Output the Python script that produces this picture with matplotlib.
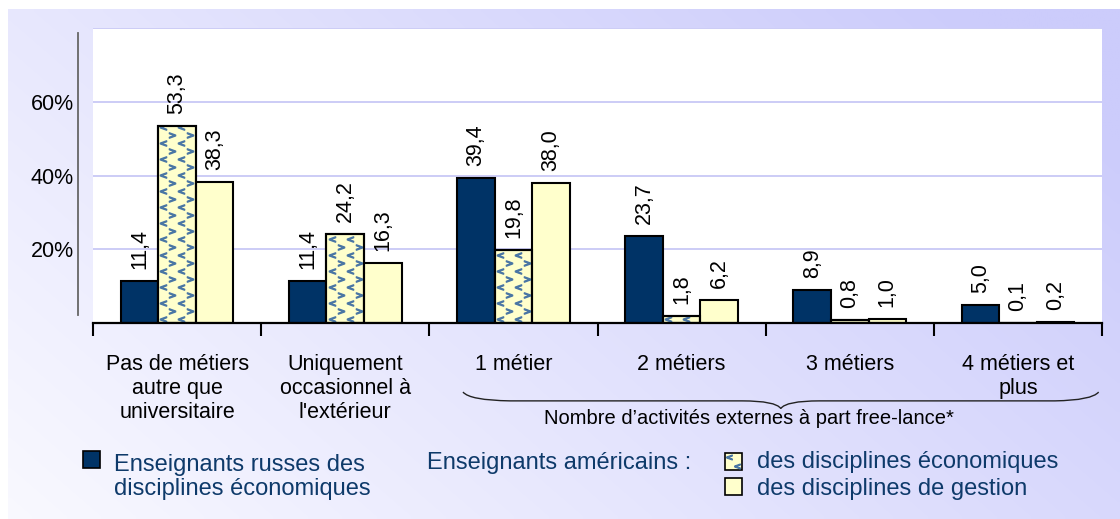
import matplotlib
matplotlib.use("Agg")
import matplotlib.pyplot as plt
import numpy as np
from matplotlib.patches import Rectangle, PathPatch
from matplotlib.path import Path
from matplotlib.transforms import blended_transform_factory

plt.rcParams['font.family'] = ['Liberation Sans', 'DejaVu Sans']

# data
categories = ["Pas de métiers\nautre que\nuniversitaire",
              "Uniquement\noccasionnel à\nl'extérieur",
              "1 métier", "2 métiers", "3 métiers", "4 métiers et\nplus"]
russes = [11.4, 11.4, 39.4, 23.7, 8.9, 5.0]
am_eco = [53.3, 24.2, 19.8, 1.8, 0.8, 0.1]
am_gestion = [38.3, 16.3, 38.0, 6.2, 1.0, 0.2]
yticks = [20, 40, 60]

NAVY = '#003366'
YELLOW = '#ffffcc'
PATTERN = '#4a76a4'
GRID = '#c8c8f6'
TXT_NAVY = '#0e3a6a'
FS_VAL = 15.5
FS_CAT = 15.5
FS_LEG = 17
FS_NOTE = 14.5

W, H = 1120, 519
fig = plt.figure(figsize=(W / 100, H / 100), dpi=100)

# background with gradient (pixel coordinates, y down)
bg = fig.add_axes([0, 0, 1, 1], zorder=0)
bg.set_xlim(0, W)
bg.set_ylim(H, 0)
bg.axis('off')
xn = np.linspace(0, 1, 200)
yn = np.linspace(0, 1, 100)
X, Y = np.meshgrid(xn, yn)
t = np.clip(0.72 * X + 0.38 * (1 - Y), 0, 1)
c0 = np.array([0.975, 0.975, 1.0])
c1 = np.array([0.80, 0.80, 0.985])
img = c0[None, None, :] * (1 - t[..., None]) + c1[None, None, :] * t[..., None]
bg.imshow(img, extent=[8, W, H, 9], aspect='auto', interpolation='bilinear')

# main axes
ax = fig.add_axes([93 / W, (H - 323) / H, (1102 - 93) / W, (323 - 28) / H], zorder=1)
ax.set_facecolor('white')
ax.set_xlim(-0.5, len(categories) - 0.5)
ax.set_ylim(0, 80)

for g in [20, 40, 60, 80]:
    ax.axhline(g, color=GRID, lw=1.3, zorder=0)

x = np.arange(len(categories))
bw = 0.223
bars_r = ax.bar(x - bw, russes, bw, color=NAVY, edgecolor='black', lw=1.5, zorder=3)
bars_e = ax.bar(x, am_eco, bw, color=YELLOW, edgecolor='black', lw=1.5, zorder=3)
bars_g = ax.bar(x + bw, am_gestion, bw, color=YELLOW, edgecolor='black', lw=1.5, zorder=3)

# chevron texture inside the economics bars
px_x = 1.0 / 168.0   # data units per pixel (x)
px_y = 80.0 / 295.0  # data units per pixel (y)
for b in bars_e:
    x0, w, h = b.get_x(), b.get_width(), b.get_height()
    rows = np.arange(4 * px_y, h, 8 * px_y)
    for i, yy in enumerate(rows):
        shift = 9 * px_x if i % 2 else 0
        cols = x0 + shift + np.arange(5, 40, 18) * px_x
        mk = '$<$' if i % 2 == 0 else '$>$'
        ln, = ax.plot(cols, [yy] * len(cols), ls='none', marker=mk, ms=4.5,
                      color=PATTERN, zorder=3.5)
        ln.set_clip_path(b)
    # re-draw outline on top
    ax.add_patch(Rectangle((x0, 0), w, h, fill=False, edgecolor='black', lw=1.5, zorder=4))

def fmt(v):
    return f"{v:.1f}".replace('.', ',')

for bars, vals in [(bars_r, russes), (bars_e, am_eco), (bars_g, am_gestion)]:
    for b, v in zip(bars, vals):
        ax.annotate(fmt(v), (b.get_x() + b.get_width() / 2, v), xytext=(0, 12),
                    textcoords='offset pixels', rotation=90, ha='center', va='bottom',
                    fontsize=FS_VAL, color='black')

# spines and ticks
for s in ['top', 'right']:
    ax.spines[s].set_visible(False)
ax.spines['left'].set_position(('outward', 11))
ax.spines['left'].set_bounds(2.2, 78.6)
ax.spines['left'].set_color('#666666')
ax.spines['left'].set_linewidth(1.3)
ax.spines['bottom'].set_linewidth(1.6)
ax.spines['bottom'].set_zorder(5)
ax.set_yticks(yticks, [f"{v}%" for v in yticks])
ax.tick_params(axis='y', length=0, pad=3, labelsize=FS_VAL)
ax.set_xticks(x, categories, linespacing=1.2)
ax.set_xticks(np.arange(-0.5, len(categories)), minor=True)
ax.tick_params(axis='x', which='major', length=0, pad=22, labelsize=FS_CAT)
ax.tick_params(axis='x', which='minor', length=9, width=1.5, direction='out')

# brace under the external activity categories
tr = blended_transform_factory(ax.transData, ax.transAxes)
verts = [(1.70, -0.234), (1.74, -0.262), (1.98, -0.264),
         (3.36, -0.264),
         (3.56, -0.264), (3.59, -0.290),
         (3.62, -0.264), (3.82, -0.264),
         (5.22, -0.264),
         (5.44, -0.262), (5.48, -0.234)]
codes = [Path.MOVETO, Path.CURVE3, Path.CURVE3, Path.LINETO,
         Path.CURVE3, Path.CURVE3, Path.CURVE3, Path.CURVE3,
         Path.LINETO, Path.CURVE3, Path.CURVE3]
ax.add_patch(PathPatch(Path(verts, codes), transform=tr, fill=False,
                       edgecolor='#222222', lw=1, clip_on=False))
ax.text(3.40, -0.325, "Nombre d’activités externes à part free-lance*", transform=tr,
        ha='center', va='center', fontsize=FS_NOTE, color='black')

# legend (figure pixel coordinates)
bg.add_patch(Rectangle((83, 451), 17, 17, facecolor=NAVY, edgecolor='black', lw=1.2))
bg.text(114, 477, "Enseignants russes des\ndisciplines économiques", ha='left', va='center',
        fontsize=FS_LEG, color=TXT_NAVY, linespacing=1.15)
bg.text(427, 463, "Enseignants américains :", ha='left', va='center', fontsize=FS_LEG, color=TXT_NAVY)
bg.add_patch(Rectangle((725, 453), 17, 17, facecolor=YELLOW, edgecolor='black', lw=1.2))
bg.plot([729, 737], [457, 466], ls='none', marker='$<$', ms=4, color=PATTERN)
bg.add_patch(Rectangle((725, 478), 17, 17, facecolor=YELLOW, edgecolor='black', lw=1.2))
bg.text(757, 462, "des disciplines économiques", ha='left', va='center', fontsize=FS_LEG, color=TXT_NAVY)
bg.text(757, 489, "des disciplines de gestion", ha='left', va='center', fontsize=FS_LEG, color=TXT_NAVY)

fig.savefig("out.png", dpi=100)
